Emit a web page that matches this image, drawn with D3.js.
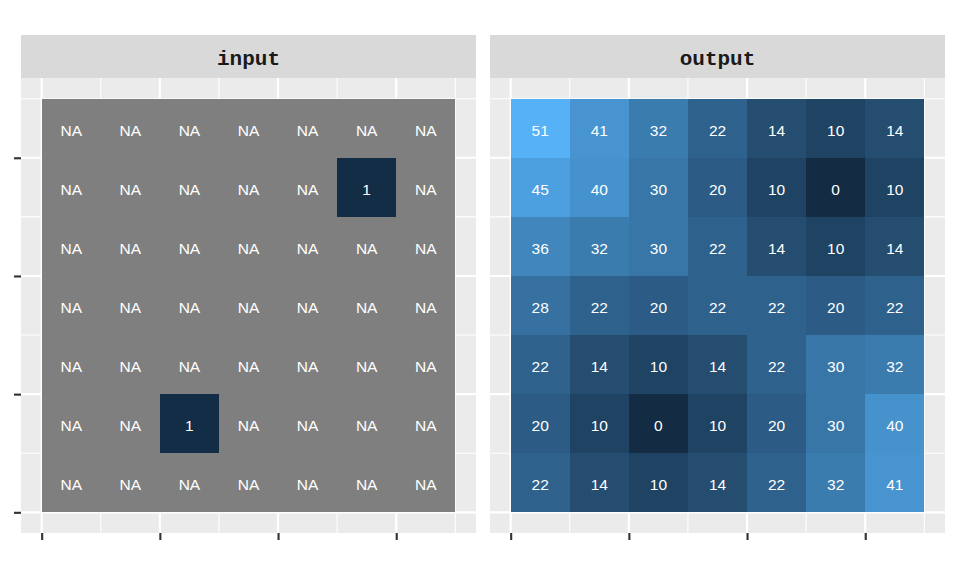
<!DOCTYPE html>
<html><head><meta charset="utf-8">
<script src="https://cdn.jsdelivr.net/npm/d3@7"></script>
<style>body{margin:0;background:#fff}</style>
</head><body>
<svg id="c" width="960" height="576"></svg>
<script>
const panels = ["input", "output"];
const cols = [1, 2, 3, 4, 5, 6, 7];
const rows = [7, 6, 5, 4, 3, 2, 1]; // top to bottom
// input grid (null = NA), rows top to bottom
const inputValues = [
  [null, null, null, null, null, null, null],
  [null, null, null, null, null, 1, null],
  [null, null, null, null, null, null, null],
  [null, null, null, null, null, null, null],
  [null, null, null, null, null, null, null],
  [null, null, 1, null, null, null, null],
  [null, null, null, null, null, null, null]
];
const outputValues = [
  [51, 41, 32, 22, 14, 10, 14],
  [45, 40, 30, 20, 10, 0, 10],
  [36, 32, 30, 22, 14, 10, 14],
  [28, 22, 20, 22, 22, 20, 22],
  [22, 14, 10, 14, 22, 30, 32],
  [20, 10, 0, 10, 20, 30, 40],
  [22, 14, 10, 14, 22, 32, 41]
];
const majorBreaks = [0.5, 2.5, 4.5, 6.5];
const minorBreaks = [1.5, 3.5, 5.5, 7.5];

const svg = d3.select("#c");
const panelX = [21, 490], panelW = 455;
const stripTop = 35, stripH = 43;
const panelTop = 78, panelH = 455;

const fill = d3.scaleSequential(d3.interpolateLab("#132B43", "#56B1F7")).domain([0, 51]);
const naColor = "#7F7F7F";
const grids = [inputValues, outputValues];

panels.forEach((name, pi) => {
  const x = d3.scaleLinear().domain([0.15, 7.85]).range([panelX[pi], panelX[pi] + panelW]);
  const y = d3.scaleLinear().domain([0.15, 7.85]).range([panelTop + panelH, panelTop]);
  const g = svg.append("g");
  // strip
  g.append("rect").attr("x", panelX[pi]).attr("y", stripTop).attr("width", panelW).attr("height", stripH).attr("fill", "#D9D9D9");
  g.append("text").attr("x", panelX[pi] + panelW / 2).attr("y", 65)
    .attr("text-anchor", "middle").attr("font-family", "Liberation Mono, Courier New, monospace").attr("font-weight", "bold")
    .attr("font-size", 21).attr("fill", "#1A1A1A").text(name);
  // panel bg
  g.append("rect").attr("x", panelX[pi]).attr("y", panelTop).attr("width", panelW).attr("height", panelH).attr("fill", "#EBEBEB");
  // gridlines
  minorBreaks.forEach(b => {
    g.append("line").attr("x1", x(b)).attr("x2", x(b)).attr("y1", panelTop).attr("y2", panelTop + panelH).attr("stroke", "#fff").attr("stroke-width", 1.07);
    g.append("line").attr("y1", y(b)).attr("y2", y(b)).attr("x1", panelX[pi]).attr("x2", panelX[pi] + panelW).attr("stroke", "#fff").attr("stroke-width", 1.07);
  });
  majorBreaks.forEach(b => {
    g.append("line").attr("x1", x(b)).attr("x2", x(b)).attr("y1", panelTop).attr("y2", panelTop + panelH).attr("stroke", "#fff").attr("stroke-width", 2.13);
    g.append("line").attr("y1", y(b)).attr("y2", y(b)).attr("x1", panelX[pi]).attr("x2", panelX[pi] + panelW).attr("stroke", "#fff").attr("stroke-width", 2.13);
  });
  // tiles
  const cells = [];
  grids[pi].forEach((row, ri) => row.forEach((v, ci) => cells.push({c: cols[ci], r: rows[ri], v})));
  g.selectAll("rect.tile").data(cells).enter().append("rect").attr("class", "tile")
    .attr("x", d => Math.round(x(d.c - 0.5))).attr("y", d => Math.round(y(d.r + 0.5)))
    .attr("width", d => Math.round(x(d.c + 0.5)) - Math.round(x(d.c - 0.5)))
    .attr("height", d => Math.round(y(d.r - 0.5)) - Math.round(y(d.r + 0.5)))
    .attr("shape-rendering", "crispEdges")
    .attr("fill", d => d.v == null ? naColor : fill(d.v));
  g.selectAll("text.lab").data(cells).enter().append("text").attr("class", "lab")
    .attr("x", d => x(d.c)).attr("y", d => y(d.r)).attr("dy", "0.47em").attr("text-anchor", "middle")
    .attr("font-family", "Liberation Sans, Arial, sans-serif").attr("font-size", 15.5).attr("fill", "#fff")
    .text(d => d.v == null ? "NA" : d.v);
  // bottom axis
  const xa = g.append("g").attr("transform", `translate(0,${panelTop + panelH})`)
    .call(d3.axisBottom(x).tickValues(majorBreaks).tickFormat("").tickSize(7).tickSizeOuter(0));
  xa.select(".domain").remove();
  xa.selectAll("line").attr("stroke", "#333").attr("stroke-width", 2.13);
  if (pi === 0) {
    const ya = g.append("g").attr("transform", `translate(${panelX[0]},0)`)
      .call(d3.axisLeft(y).tickValues(majorBreaks).tickFormat("").tickSize(7).tickSizeOuter(0));
    ya.select(".domain").remove();
    ya.selectAll("line").attr("stroke", "#333").attr("stroke-width", 2.13);
  }
});
</script>
</body></html>
